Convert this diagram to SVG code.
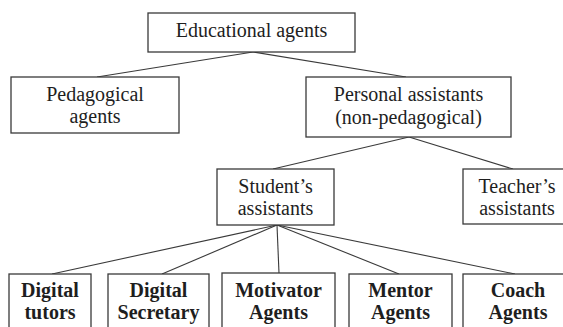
<svg xmlns="http://www.w3.org/2000/svg" width="563" height="327" viewBox="0 0 563 327">
  <style>
    .box { fill: #ffffff; stroke: #3a3a3a; stroke-width: 1.3; }
    .edge { fill: none; stroke: #3a3a3a; stroke-width: 1.1; }
  </style>
  <rect width="563" height="327" fill="#ffffff"/>

  <g id="connectors">
    <line class="edge" x1="253" y1="52" x2="97" y2="77"/>
    <line class="edge" x1="253" y1="52" x2="406" y2="77"/>
    <line class="edge" x1="409" y1="137" x2="273" y2="169"/>
    <line class="edge" x1="409" y1="137" x2="513" y2="169"/>
    <line class="edge" x1="277" y1="225" x2="52" y2="274"/>
    <line class="edge" x1="277" y1="225" x2="162" y2="274"/>
    <line class="edge" x1="277" y1="225" x2="279" y2="273"/>
    <line class="edge" x1="277" y1="225" x2="399" y2="274"/>
    <line class="edge" x1="277" y1="225" x2="515" y2="274"/>
  </g>

  <g font-family="Liberation Serif, serif" font-size="20" fill="#1e1e1e" text-anchor="middle">
    <g id="educational-agents">
      <rect class="box" x="148" y="13" width="207" height="39"/>
      <text x="251.5" y="37">Educational agents</text>
    </g>

    <g id="pedagogical-agents">
      <rect class="box" x="11" y="77" width="168" height="56"/>
      <text x="95" y="101">Pedagogical</text>
      <text x="95" y="123">agents</text>
    </g>

    <g id="personal-assistants">
      <rect class="box" x="306" y="77" width="205" height="60"/>
      <text x="408.5" y="101">Personal assistants</text>
      <text x="408.5" y="124">(non-pedagogical)</text>
    </g>

    <g id="students-assistants">
      <rect class="box" x="217" y="169" width="117" height="56"/>
      <text x="275.5" y="193">Student’s</text>
      <text x="275.5" y="215">assistants</text>
    </g>

    <g id="teachers-assistants">
      <rect class="box" x="463" y="169" width="112" height="55"/>
      <text x="517" y="193">Teacher’s</text>
      <text x="517" y="215">assistants</text>
    </g>

    <g font-weight="bold">
      <g id="digital-tutors">
        <rect class="box" x="9" y="274" width="82" height="70"/>
        <text x="50" y="297">Digital</text>
        <text x="50" y="319">tutors</text>
      </g>

      <g id="digital-secretary">
        <rect class="box" x="108" y="274" width="101" height="70"/>
        <text x="158.5" y="297">Digital</text>
        <text x="158.5" y="319">Secretary</text>
      </g>

      <g id="motivator-agents">
        <rect class="box" x="222" y="273" width="113" height="70"/>
        <text x="278.5" y="297">Motivator</text>
        <text x="278.5" y="319">Agents</text>
      </g>

      <g id="mentor-agents">
        <rect class="box" x="349" y="274" width="103" height="70"/>
        <text x="400.5" y="297">Mentor</text>
        <text x="400.5" y="319">Agents</text>
      </g>

      <g id="coach-agents">
        <rect class="box" x="463" y="274" width="112" height="70"/>
        <text x="518" y="297">Coach</text>
        <text x="518" y="319">Agents</text>
      </g>
    </g>
  </g>
</svg>
